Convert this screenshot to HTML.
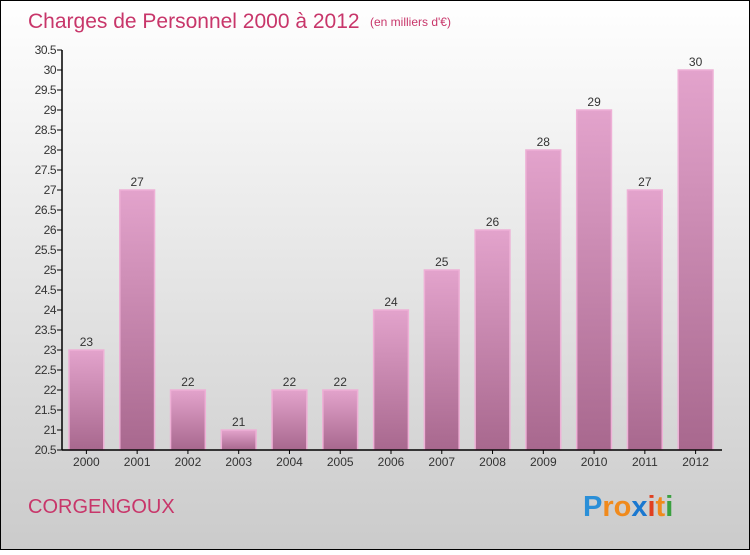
<!DOCTYPE html>
<html><head><meta charset="utf-8"><style>
body{margin:0;width:750px;height:550px;overflow:hidden;font-family:"Liberation Sans",sans-serif}
</style></head><body>
<svg width="750" height="550" xmlns="http://www.w3.org/2000/svg">
<defs>
<linearGradient id="bg" x1="0" y1="0" x2="0" y2="1"><stop offset="0" stop-color="#ffffff"/><stop offset="1" stop-color="#cbcbcb"/></linearGradient>
<linearGradient id="bar" x1="0" y1="0" x2="0" y2="1"><stop offset="0" stop-color="#e3a3cc"/><stop offset="1" stop-color="#a8688e"/></linearGradient>
</defs>
<rect x="0.5" y="0.5" width="749" height="549" fill="url(#bg)" stroke="#000"/>
<text x="28" y="28" font-size="21" fill="#c8366a">Charges de Personnel 2000 à 2012</text>
<text x="370" y="26" font-size="12" fill="#c8366a">(en milliers d'€)</text>
<g id="plot"></g>
<text x="28" y="513" font-size="20" fill="#c8366a">CORGENGOUX</text>
<text x="583" y="516" font-size="29" font-weight="bold"><tspan fill="#2a8fd8">P</tspan><tspan fill="#f08a1c">ro</tspan><tspan fill="#1a78d0">x</tspan><tspan fill="#e04020">i</tspan><tspan fill="#f08a1c">t</tspan><tspan fill="#3aa040">i</tspan></text>
</svg>
<script>
const categories=["2000","2001","2002","2003","2004","2005","2006","2007","2008","2009","2010","2011","2012"];
const values=[23,27,22,21,22,22,24,25,26,28,29,27,30];
const ticks=[20.5,21,21.5,22,22.5,23,23.5,24,24.5,25,25.5,26,26.5,27,27.5,28,28.5,29,29.5,30,30.5];
const NS="http://www.w3.org/2000/svg";
const g=document.getElementById('plot');
const x0=62,x1=722,yTop=50,yBot=450,vmin=20.5,vmax=30.5;
const y=v=>yBot-(v-vmin)/(vmax-vmin)*(yBot-yTop);
const step=(x1-x0)/categories.length;
const xb=i=>x0+i*step;
function mk(t,a){const e=document.createElementNS(NS,t);for(const k in a)e.setAttribute(k,a[k]);g.appendChild(e);return e;}
categories.forEach((c,i)=>{
 const bx=xb(i)+7,bw=step-16;
 const r=mk('rect',{x:bx,y:y(values[i]),width:bw,height:yBot-y(values[i]),fill:'url(#bar)',stroke:'#eeb0d6','stroke-width':1.5});
 
 
 const t=mk('text',{x:bx+bw/2,y:y(values[i])-4,'text-anchor':'middle','font-size':12,fill:'#333'});
 t.textContent=values[i];
 
 
 mk('line',{x1:bx+bw/2,x2:bx+bw/2,y1:yBot,y2:yBot+4,stroke:'#000'});
 const xl=mk('text',{x:bx+bw/2,y:466,'text-anchor':'middle','font-size':12,fill:'#333'});
 xl.textContent=c;
 
 
});
ticks.forEach(v=>{
 mk('line',{x1:57,x2:x0,y1:y(v),y2:y(v),stroke:'#000'});
 const t=mk('text',{x:56,y:y(v)+4,'text-anchor':'end','font-size':12,fill:'#333','letter-spacing':'-0.5'});
 t.textContent=v;
 
 
});
const ya=mk('line',{x1:x0,x2:x0,y1:yTop,y2:yBot,stroke:'#000','stroke-width':1.5});


const xa=mk('line',{x1:x0,x2:x1,y1:yBot,y2:yBot,stroke:'#000','stroke-width':1.5});


</script>
</body></html>
